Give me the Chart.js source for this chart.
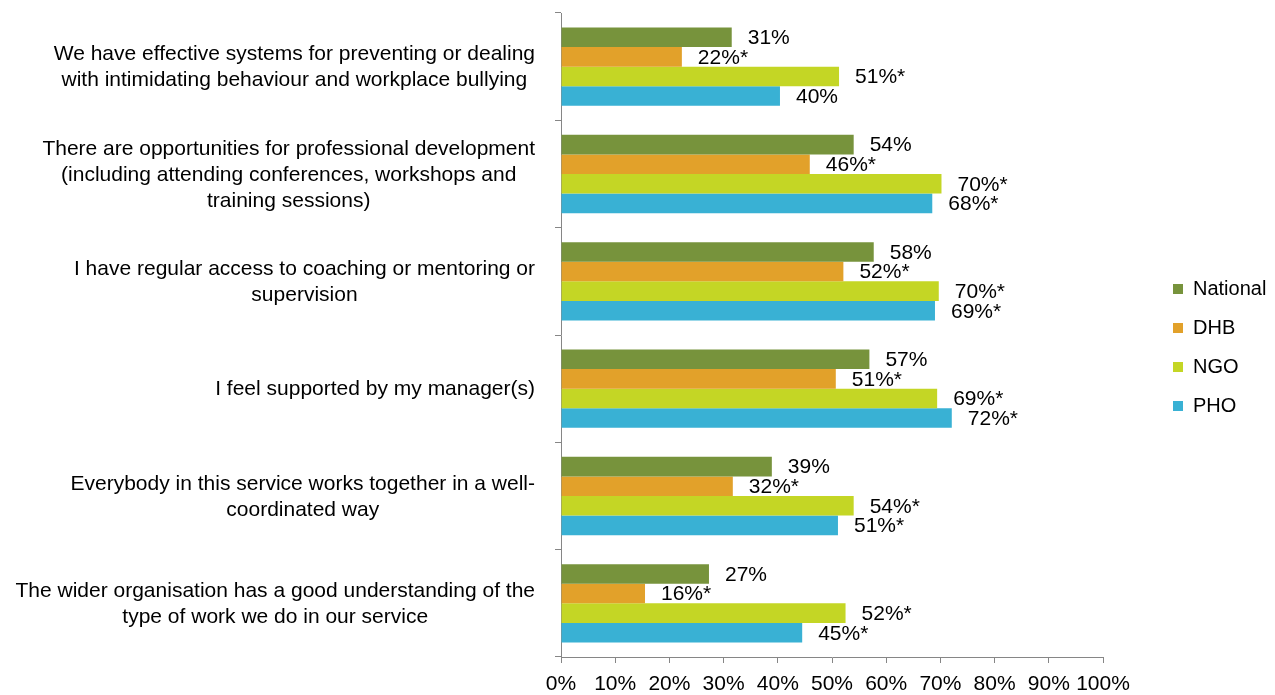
<!DOCTYPE html>
<html>
<head>
<meta charset="utf-8">
<script src="https://cdn.jsdelivr.net/npm/chart.js@4/dist/chart.umd.min.js"></script>
<style>
  html, body { margin: 0; padding: 0; background: #fff; }
  #wrap { width: 1275px; height: 695px; }
</style>
</head>
<body>
<div id="wrap"><canvas id="chart" width="1275" height="695"></canvas></div>
<script>
// ---- data ----
const categories = [
  ['We have effective systems for preventing or dealing', 'with intimidating behaviour and workplace bullying'],
  ['There are opportunities for professional development', '(including attending conferences, workshops and', 'training sessions)'],
  ['I have regular access to coaching or mentoring or', 'supervision'],
  ['I feel supported by my manager(s)'],
  ['Everybody in this service works together in a well-', 'coordinated way'],
  ['The wider organisation has a good understanding of the', 'type of work we do in our service']
];
const seriesNames = ['National', 'DHB', 'NGO', 'PHO'];
const nationalValues = [31.5, 54.0, 57.7, 56.9, 38.9, 27.3];
const dhbValues      = [22.3, 45.9, 52.1, 50.7, 31.7, 15.5];
const ngoValues      = [51.3, 70.2, 69.7, 69.4, 54.0, 52.5];
const phoValues      = [40.4, 68.5, 69.0, 72.1, 51.1, 44.5];
const nationalLabels = ['31%', '54%', '58%', '57%', '39%', '27%'];
const dhbLabels      = ['22%*', '46%*', '52%*', '51%*', '32%*', '16%*'];
const ngoLabels      = ['51%*', '70%*', '70%*', '69%*', '54%*', '52%*'];
const phoLabels      = ['40%', '68%*', '69%*', '72%*', '51%*', '45%*'];
const xTicks = [0, 10, 20, 30, 40, 50, 60, 70, 80, 90, 100];

const FONT = "'Liberation Sans', Arial, sans-serif";
const AXIS = '#868686';

const datasets = [
  { label: seriesNames[0], data: nationalValues, backgroundColor: '#77933C', valueLabels: nationalLabels },
  { label: seriesNames[1], data: dhbValues, backgroundColor: '#E2A12A', valueLabels: dhbLabels },
  { label: seriesNames[2], data: ngoValues, backgroundColor: '#C4D625', valueLabels: ngoLabels },
  { label: seriesNames[3], data: phoValues, backgroundColor: '#39B1D4', valueLabels: phoLabels }
].map(d => ({ ...d, borderWidth: 0, barPercentage: 1, categoryPercentage: 0.73 }));

// value labels at the end of each bar
const valueLabelPlugin = {
  id: 'valueLabels',
  afterDatasetsDraw(chart) {
    const ctx = chart.ctx;
    ctx.save();
    ctx.font = '21px ' + FONT;
    ctx.fillStyle = '#000';
    ctx.textAlign = 'left';
    ctx.textBaseline = 'middle';
    chart.data.datasets.forEach((ds, di) => {
      chart.getDatasetMeta(di).data.forEach((bar, i) => {
        ctx.fillText(ds.valueLabels[i], bar.x + 16, bar.y + 1);
      });
    });
    ctx.restore();
  }
};

// category labels: block right aligned at the axis, lines centred in the block
const categoryLabelPlugin = {
  id: 'categoryLabels',
  afterDraw(chart) {
    const ctx = chart.ctx;
    const scale = chart.scales.y;
    ctx.save();
    ctx.font = '21px ' + FONT;
    ctx.fillStyle = '#000';
    ctx.textAlign = 'center';
    ctx.textBaseline = 'middle';
    const right = scale.right - 26;
    categories.forEach((lines, i) => {
      const w = Math.max(...lines.map(l => ctx.measureText(l).width));
      const cx = right - w / 2;
      const cy = scale.getPixelForValue(i) + 1;
      lines.forEach((l, j) => {
        ctx.fillText(l, cx, cy + (j - (lines.length - 1) / 2) * 26);
      });
    });
    ctx.restore();
  }
};

// legend sits well away from the plot, like the original
const legendSpacePlugin = {
  id: 'legendSpace',
  afterInit(chart) {
    const fit = chart.legend.fit;
    chart.legend.fit = function () {
      fit.call(this);
      this.width = 172;
    };
  },
  afterLayout(chart) {
    chart.legend.left = chart.chartArea.right + 51;
    chart.legend.top = 0;
  }
};

new Chart(document.getElementById('chart'), {
  type: 'bar',
  data: { labels: categories.map(c => c.join(' ')), datasets },
  options: {
    indexAxis: 'y',
    responsive: false,
    animation: false,
    layout: { padding: { top: 13, right: 0, bottom: 0, left: 0 } },
    plugins: {
      tooltip: { enabled: false },
      legend: {
        position: 'right',
        align: 'center',
        labels: {
          boxWidth: 10,
          boxHeight: 10,
          padding: 19,
          color: '#000',
          font: { family: FONT, size: 20 }
        }
      }
    },
    scales: {
      x: {
        min: 0,
        max: 100,
        afterBuildTicks: s => { s.ticks = xTicks.map(v => ({ value: v })); },
        afterFit: s => { s.height = 38; },
        grid: { drawOnChartArea: false, drawTicks: true, tickLength: 6, color: AXIS },
        border: { display: true, color: AXIS, width: 1 },
        ticks: {
          padding: 9,
          color: '#000',
          font: { family: FONT, size: 21 },
          autoSkip: false,
          maxRotation: 0,
          callback: v => v + '%'
        }
      },
      y: {
        offset: true,
        afterFit: s => { s.width = 561; },
        grid: { offset: true, drawOnChartArea: false, drawTicks: true, tickLength: 6, color: AXIS },
        border: { display: true, color: AXIS, width: 1 },
        ticks: { display: false }
      }
    }
  },
  plugins: [valueLabelPlugin, categoryLabelPlugin, legendSpacePlugin]
});
</script>
</body>
</html>
